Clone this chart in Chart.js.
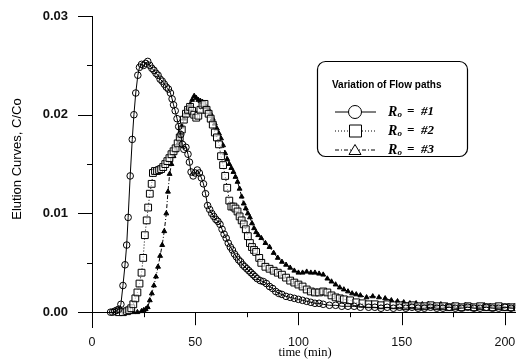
<!DOCTYPE html>
<html>
<head>
<meta charset="utf-8">
<script src="https://cdn.jsdelivr.net/npm/chart.js@4/dist/chart.umd.min.js"></script>
<style>
  html, body { margin: 0; padding: 0; background: #fff; }
  #wrap { width: 521px; height: 363px; position: relative; }
</style>
</head>
<body>
<div id="wrap"><canvas id="chart" width="521" height="363"></canvas></div>
<script>
// R_o = #1 (circles)
const time1 = [9,10,11,12,13,14,15,16,16.8,17.5,18.5,19.5,20.3,21.2,22.2,23,24,25,26,27,28,29,30,31,32,33,34,35,36,37,38,38.8,39.5,40.3,41.2,42,43,43.8,44.5,45.5,46.5,47.2,48,49,50,51,52,53,54,55,56,57,58,59,60,61,62,63,64,65,66,67,68,69,70,71,72,73,74,75,76,77,78,79,80,81.5,83,84.5,86,87.5,89,90.5,92,94,96,98,100,102,104,106,108,110,112,115,118,121,124,127,130,134,137,140,143,146,149,152,155,158,161,164,167,170,173,176,179,182,185,188,191,194,197,200,203,206];
const conc1 = [0,0,0.0001,0.0002,0.0003,0.0008,0.0027,0.0048,0.0068,0.0096,0.0138,0.0175,0.0200,0.0222,0.0240,0.0248,0.0251,0.0250,0.0252,0.0254,0.0250,0.0247,0.0245,0.0242,0.0240,0.0236,0.0234,0.0231,0.0228,0.0226,0.0222,0.0216,0.0210,0.0204,0.0196,0.0188,0.0180,0.0170,0.0165,0.0167,0.0160,0.0152,0.0142,0.0138,0.0141,0.0144,0.0141,0.0136,0.0130,0.0120,0.0108,0.0104,0.0100,0.0097,0.0094,0.0092,0.0089,0.0084,0.0079,0.0075,0.0070,0.0066,0.0063,0.0059,0.0056,0.0053,0.0051,0.0048,0.0046,0.0044,0.0042,0.0040,0.0038,0.0036,0.0034,0.0032,0.0031,0.0029,0.0026,0.0024,0.0021,0.0019,0.0018,0.0016,0.0015,0.0014,0.0013,0.0012,0.0011,0.0010,0.0009,0.0009,0.0008,0.0007,0.0007,0.0006,0.0006,0.0006,0.0005,0.0005,0.0005,0.0004,0.0005,0.0004,0.0005,0.0004,0.0005,0.0004,0.0004,0.0005,0.0004,0.0004,0.0005,0.0004,0.0004,0.0005,0.0004,0.0004,0.0005,0.0004,0.0004,0.0005,0.0004,0.0004];

// R_o = #2 (squares)
const time2 = [13,15,17,18,19,20,21,22,23,24,24.8,25.6,26.5,27.2,28,28.9,29.5,30.5,31.5,32.5,33.5,34.5,35.5,36.5,37.5,38.5,39.5,40.5,41.5,42.5,43.5,44.5,45.5,46.5,47.5,48.5,49.5,50.5,51.5,52.5,53.5,54.5,55.5,56.5,57.5,58.5,59.5,60.5,61.5,62.5,63.5,64.5,65.5,66.5,67.5,68.5,69.5,70.5,71.5,72.5,73.5,74.5,75.5,76.5,77.5,78.5,79.5,81,82,84,86,88,90,92,94,96,98,100,102,104,106,108,110,112,114,116,118,120,122,125,128,131,134,137,140,143,146,149,152,155,158,161,164,167,170,173,176,179,182,185,188,191,194,197,200,203,206];
const conc2 = [0,0,0.0001,0.0002,0.0004,0.0008,0.0014,0.0020,0.0029,0.0040,0.0055,0.0078,0.0093,0.0106,0.0120,0.0130,0.0141,0.0143,0.0143,0.0144,0.0145,0.0147,0.0150,0.0153,0.0156,0.0160,0.0163,0.0166,0.0171,0.0177,0.0185,0.0195,0.0201,0.0205,0.0208,0.0204,0.0200,0.0197,0.0199,0.0205,0.0210,0.0211,0.0205,0.0201,0.0196,0.0190,0.0182,0.0177,0.0170,0.0158,0.0149,0.0138,0.0126,0.0113,0.0107,0.0107,0.0105,0.0102,0.0097,0.0093,0.0089,0.0084,0.0077,0.0070,0.0066,0.0063,0.0061,0.0055,0.0050,0.0046,0.0044,0.0042,0.0040,0.0038,0.0035,0.0032,0.0030,0.0028,0.0026,0.0023,0.0021,0.0020,0.0020,0.0021,0.0020,0.0017,0.0015,0.0014,0.0013,0.0012,0.0010,0.0009,0.0008,0.0008,0.0007,0.0008,0.0007,0.0007,0.0006,0.0007,0.0006,0.0006,0.0007,0.0006,0.0006,0.0005,0.0006,0.0005,0.0006,0.0005,0.0006,0.0005,0.0005,0.0006,0.0005,0.0005,0.0005];

// R_o = #3 (triangles)
const time3 = [20,22,24,25,26,27,28,29,30,31,32,33,34,35,36,36.8,37.6,38.5,39.5,40.5,41.5,42.5,43.5,44.5,45.5,46.5,47.5,48.5,49.5,50.5,51.5,52.5,53.5,54.5,55.5,56.5,57.5,58.5,59.5,60.5,61.5,62.5,63.5,64.5,65.5,66.5,67.5,68.5,69.5,70.5,71.5,72.5,73.5,74.5,75.5,76.5,77.5,78.5,79.5,80.5,82,84,86,88,90,92,94,96,98,100,102,104,106,108,110,112,114,116,118,120,122,124,126,128,130,133,136,139,142,145,148,151,154,157,160,163,166,169,172,175,178,181,184,187,190,193,196,199,202,205];
const conc3 = [0,0,0.0001,0.0002,0.0003,0.0005,0.0012,0.0019,0.0027,0.0036,0.0046,0.0057,0.0068,0.0082,0.0100,0.0122,0.0140,0.0150,0.0158,0.0164,0.0170,0.0178,0.0188,0.0196,0.0202,0.0207,0.0210,0.0215,0.0219,0.0217,0.0215,0.0214,0.0213,0.0210,0.0208,0.0205,0.0201,0.0196,0.0191,0.0186,0.0181,0.0176,0.0169,0.0161,0.0155,0.0150,0.0146,0.0142,0.0137,0.0132,0.0125,0.0117,0.0110,0.0105,0.0100,0.0096,0.0090,0.0085,0.0081,0.0078,0.0075,0.0070,0.0066,0.0060,0.0055,0.0051,0.0048,0.0045,0.0042,0.0040,0.0040,0.0041,0.0040,0.0040,0.0039,0.0038,0.0034,0.0031,0.0028,0.0025,0.0023,0.0021,0.0019,0.0018,0.0017,0.0015,0.0016,0.0015,0.0014,0.0012,0.0011,0.0010,0.0009,0.0009,0.0008,0.0008,0.0007,0.0008,0.0007,0.0007,0.0006,0.0007,0.0006,0.0006,0.0007,0.0006,0.0006,0.0005,0.0006,0.0006];

const xTicks = [0, 50, 100, 150, 200];
const xMinor = [25, 75, 125, 175];
const yTicks = [0, 0.01, 0.02, 0.03];
const yMinor = [0.005, 0.015, 0.025];
const legendTitle = 'Variation of Flow paths';
const seriesNames = ['#1', '#2', '#3'];

const pairs = (xs, ys) => xs.map((x, i) => ({ x: x, y: ys[i] }));

// tick marks, axis titles, legend box
const extras = {
  id: 'extras',
  afterDraw(chart) {
    const ctx = chart.ctx;
    const xs = chart.scales.x, ys = chart.scales.y;
    const x0 = xs.left, y0 = ys.getPixelForValue(0);
    ctx.save();
    ctx.strokeStyle = '#000';
    ctx.lineWidth = 1;
    ctx.beginPath();
    yTicks.forEach(v => { const p = Math.round(ys.getPixelForValue(v)) + 0.5; ctx.moveTo(x0 - 14, p); ctx.lineTo(x0, p); });
    yMinor.forEach(v => { const p = Math.round(ys.getPixelForValue(v)) + 0.5; ctx.moveTo(x0 - 5, p); ctx.lineTo(x0, p); });
    xTicks.forEach(v => { const p = Math.round(xs.getPixelForValue(v)) + 0.5; ctx.moveTo(p, y0); ctx.lineTo(p, y0 + 13); });
    xMinor.forEach(v => { const p = Math.round(xs.getPixelForValue(v)) + 0.5; ctx.moveTo(p, y0); ctx.lineTo(p, y0 + 5); });
    ctx.stroke();

    // axis titles
    ctx.fillStyle = '#000';
    ctx.font = '12.5px "Liberation Serif"';
    ctx.textAlign = 'center';
    ctx.textBaseline = 'middle';
    ctx.fillText('time (min)', 305, 353);
    ctx.save();
    ctx.translate(17, 159);
    ctx.rotate(-Math.PI / 2);
    ctx.font = '13px "Liberation Sans"';
    ctx.fillText('Elution Curves, C/Co', 0, 0);
    ctx.restore();

    // legend
    ctx.lineWidth = 1.2;
    ctx.beginPath();
    ctx.roundRect(317.5, 61.5, 150, 95, 8);
    ctx.stroke();
    ctx.font = 'bold 10px "Liberation Sans"';
    ctx.textAlign = 'left';
    ctx.fillText(legendTitle, 332, 85);
    const dashes = [[], [1, 2], [4, 2, 1, 2]];
    const rows = [112, 131, 150];
    rows.forEach((ry, i) => {
      ctx.lineWidth = 1;
      ctx.setLineDash(dashes[i]);
      ctx.beginPath();
      ctx.moveTo(335, ry); ctx.lineTo(376, ry);
      ctx.stroke();
      ctx.setLineDash([]);
      ctx.beginPath();
      if (i === 0) ctx.arc(355, ry, 6.5, 0, Math.PI * 2);
      if (i === 1) ctx.rect(349.5, ry - 6, 12, 12);
      if (i === 2) { ctx.moveTo(355, ry - 5.5); ctx.lineTo(361, ry + 4.5); ctx.lineTo(349, ry + 4.5); ctx.closePath(); }
      ctx.fillStyle = '#fff';
      ctx.fill();
      ctx.stroke();
      ctx.fillStyle = '#000';
      ctx.font = 'italic bold 14px "Liberation Serif"';
      ctx.fillText('R', 388, ry);
      ctx.font = 'italic bold 9px "Liberation Serif"';
      ctx.fillText('o', 397.5, ry + 3);
      ctx.font = 'italic bold 13px "Liberation Serif"';
      ctx.fillText('=  ' + seriesNames[i], 407, ry);
    });
    ctx.restore();
  }
};

// keep the plot box fixed: the axis sizes come from layout padding only
const flatX = s => { s.height = 0; s.paddingLeft = 0; s.paddingRight = 0; s.paddingTop = 0; s.paddingBottom = 0; };
const flatY = s => { s.width = 92; s.paddingTop = 0; s.paddingBottom = 0; };

new Chart(document.getElementById('chart'), {
  type: 'scatter',
  data: {
    datasets: [
      {
        data: pairs(time1, conc1),
        showLine: true, borderColor: '#000', borderWidth: 1,
        pointStyle: 'circle', pointRadius: 3.3, pointBorderWidth: 1,
        pointBackgroundColor: 'rgba(0,0,0,0)', pointBorderColor: '#000'
      },
      {
        data: pairs(time2, conc2),
        showLine: true, borderColor: '#000', borderWidth: 1, borderDash: [1, 2],
        pointStyle: 'rect', pointRadius: 4.8, pointBorderWidth: 1,
        pointBackgroundColor: 'rgba(255,255,255,0.6)', pointBorderColor: '#000'
      },
      {
        data: pairs(time3, conc3),
        showLine: true, borderColor: '#000', borderWidth: 1, borderDash: [4, 2, 1, 2],
        pointStyle: 'triangle', pointRadius: 2.8, pointBorderWidth: 1,
        pointBackgroundColor: '#000', pointBorderColor: '#000'
      }
    ]
  },
  options: {
    responsive: false,
    animation: false,
    layout: { padding: { left: 0, right: 0, top: 16, bottom: 36 } },
    plugins: { legend: { display: false }, tooltip: { enabled: false } },
    scales: {
      x: {
        type: 'linear', min: 0, max: 205,
        position: { y: 0 },
        afterFit: flatX,
        afterBuildTicks: s => { s.ticks = xTicks.map(v => ({ value: v })); },
        grid: { display: false, drawTicks: false },
        border: { display: true, color: '#000', width: 1 },
        ticks: { padding: 23, color: '#111', font: { family: 'Liberation Sans', size: 12.5 } }
      },
      y: {
        type: 'linear', min: -0.0015, max: 0.03,
        afterFit: flatY,
        afterBuildTicks: s => { s.ticks = yTicks.map(v => ({ value: v })); },
        grid: { display: false, drawTicks: false },
        border: { display: true, color: '#000', width: 1 },
        ticks: { padding: 24, color: '#111', font: { family: 'Liberation Sans', size: 13, weight: 'bold' }, callback: v => v.toFixed(2) }
      }
    }
  },
  plugins: [extras]
});
</script>
</body>
</html>
